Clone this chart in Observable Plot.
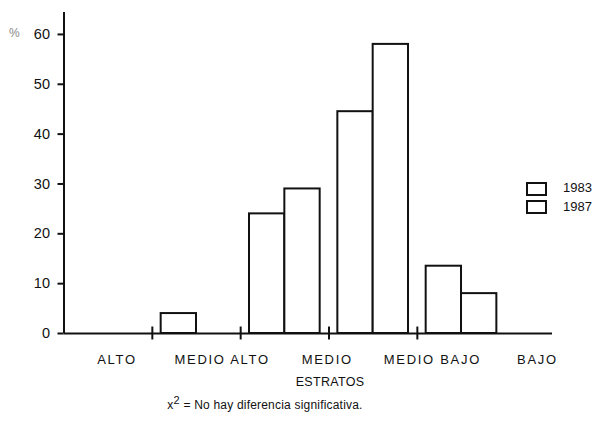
<!DOCTYPE html>
<html>
<head>
<meta charset="utf-8">
<script src="https://cdn.jsdelivr.net/npm/d3@7"></script>
<script src="https://cdn.jsdelivr.net/npm/@observablehq/plot@0.6"></script>
<style>
  html, body { margin: 0; padding: 0; background: #fff; }
  body { font-family: "Liberation Sans", Arial, Helvetica, sans-serif; color: #111; }
  #wrap { position: relative; width: 599px; height: 428px; overflow: hidden; }
  .abs { position: absolute; white-space: nowrap; }
  .sw { position: absolute; width: 17px; height: 10px; border: 2px solid #111; background: #fff; }
  #chart svg g[aria-label="x-axis tick label"] text { font-size: 13px !important; letter-spacing: 1.7px; }
  #chart svg g[aria-label="y-axis tick label"] text { font-size: 14.5px !important; }
</style>
</head>
<body>
<div id="wrap">
  <div id="chart"></div>
  <div class="abs" style="left:9px; top:26px; font-size:12px; color:#888;">%</div>
  <div class="sw" style="left:526px; top:182px;"></div>
  <div class="abs" style="left:563px; top:180px; font-size:13px;">1983</div>
  <div class="sw" style="left:526px; top:200px;"></div>
  <div class="abs" style="left:563px; top:199px; font-size:13px;">1987</div>
  <div class="abs" style="left:0; width:660px; top:375px; text-align:center; font-size:12.5px; letter-spacing:0.3px;">ESTRATOS</div>
  <div class="abs" style="left:0; width:530px; top:398px; text-align:center; font-size:12px; letter-spacing:0.2px;">x<sup style="font-size:11px; vertical-align:5px; line-height:0;">2</sup> = No hay diferencia significativa.</div>
</div>
<script>
const estratos = ["ALTO", "MEDIO ALTO", "MEDIO", "MEDIO BAJO", "BAJO"];
const years = ["1983", "1987"];
const v1983 = [0, 4, 24, 44.5, 13.5];
const v1987 = [0, 0, 29, 58, 8];
const yTicks = [0, 10, 20, 30, 40, 50, 60];

const rows = [];
estratos.forEach((e, i) => {
  [v1983, v1987].forEach((vals, j) => {
    if (vals[i] > 0) rows.push({estrato: e, year: years[j], value: vals[i], i, j});
  });
});
const breaks = estratos.slice(1).map((_, k) => k + 1);
const labelPos = estratos.map((_, i) => 0.6 + 1.19 * i);

const chart = Plot.plot({
  width: 599,
  height: 372,
  marginLeft: 63.5,
  marginRight: 47,
  marginTop: 12,
  marginBottom: 39,
  x: {domain: [0, 5.53], axis: null},
  y: {domain: [0, 64.4], axis: null},
  style: {fontFamily: '"Liberation Sans", Arial, Helvetica, sans-serif', color: "#111", background: "#fff"},
  marks: [
    Plot.rectY(rows, {
      x1: d => d.i + 0.1 + 0.4 * d.j,
      x2: d => d.i + 0.5 + 0.4 * d.j,
      y: "value",
      fill: "#fff", stroke: "#111", strokeWidth: 2
    }),
    Plot.ruleY([0], {stroke: "#111", strokeWidth: 2}),
    Plot.ruleX([0], {stroke: "#111", strokeWidth: 2}),
    Plot.ruleX(breaks, {y1: -1.3, y2: 1.3, stroke: "#111", strokeWidth: 2}),
    Plot.axisY({ticks: yTicks, tickSize: 6, tickPadding: 8, label: null, strokeWidth: 2, fontSize: 14.5}),
    Plot.axisX({
      ticks: labelPos, tickSize: 0, tickPadding: 21, label: null, fontSize: 13,
      tickFormat: d => estratos[labelPos.indexOf(d)]
    })
  ]
});
document.getElementById("chart").appendChild(chart);
</script>
</body>
</html>
